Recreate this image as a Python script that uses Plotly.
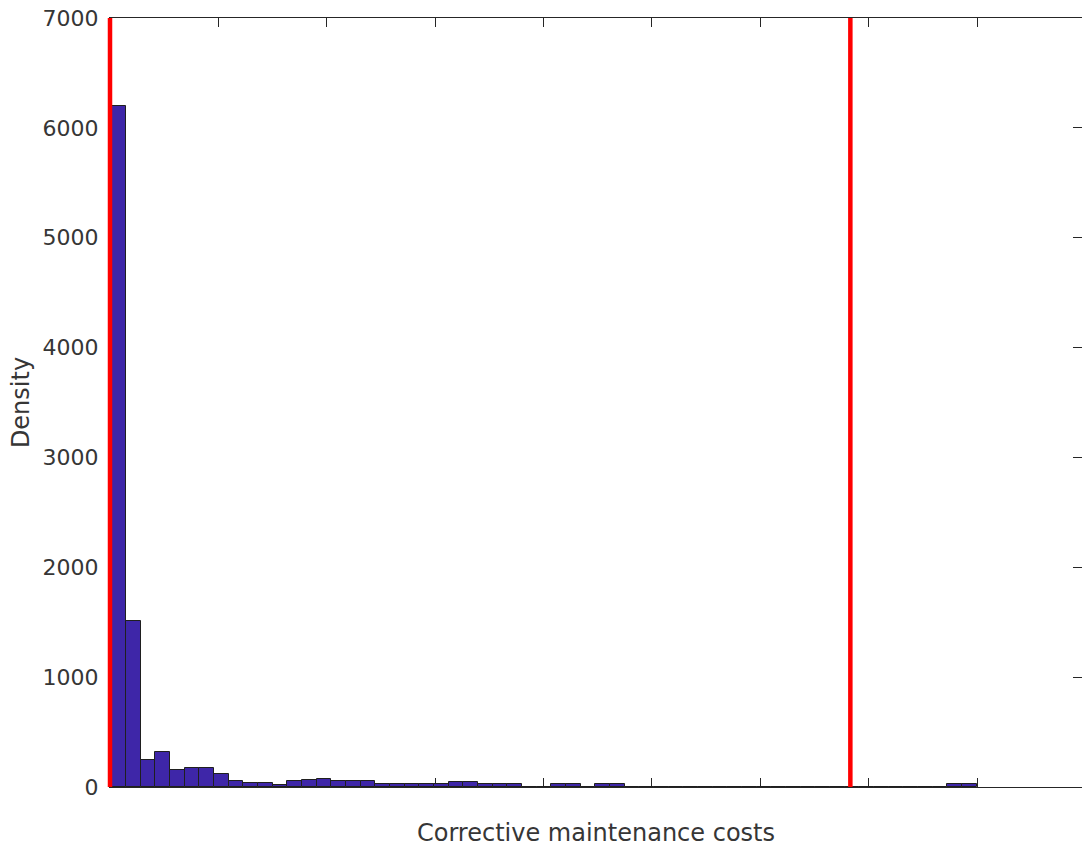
import plotly.graph_objects as go

# Histogram of corrective maintenance costs (density), 59 bins
bin_start = 0.011          # left edge of first bin (x units, ticks at integers)
bin_width = 0.1353         # bin width (x units)
densities = [
    6200, 1510, 243, 316, 152, 170, 170, 116, 52, 36,
    36, 22, 52, 61, 70, 52, 52, 52, 27, 27,
    27, 27, 27, 43, 43, 27, 27, 27, 4, 4,
    27, 27, 4, 27, 27, 4, 4, 4, 4, 4,
    4, 4, 4, 4, 4, 4, 4, 4, 4, 4,
    4, 4, 4, 4, 4, 4, 4, 27, 27,
]
ref_lines = [0.0, 6.83]    # vertical red reference lines (x units)

x_ticks = [0, 1, 2, 3, 4, 5, 6, 7, 8]
y_ticks = [0, 1000, 2000, 3000, 4000, 5000, 6000, 7000]
y_tick_labels = ["0", "1000", "2000", "3000", "4000", "5000", "6000", "7000"]

x_range = [0, 8.967]
y_range = [0, 7000]

centers = [bin_start + bin_width * (i + 0.5) for i in range(len(densities))]

axis_col = "#262626"
text_col = "#363636"
font_family = "DejaVu Sans"

fig = go.Figure()
fig.add_trace(go.Bar(
    x=centers, y=densities, width=bin_width,
    marker=dict(color="#3E26A8", line=dict(color="#1f1f1f", width=1)),
    showlegend=False, hoverinfo="skip",
))
fig.add_trace(go.Scatter(x=[None], y=[None], yaxis="y2", showlegend=False, hoverinfo="skip"))

for v in ref_lines:
    px = (v - x_range[0]) / (x_range[1] - x_range[0])
    fig.add_shape(type="line", xref="paper", yref="paper", x0=px, x1=px, y0=0, y1=1,
                  line=dict(color="#FF0000", width=4.5), layer="above")

fig.update_layout(
    width=1082, height=847,
    margin=dict(l=110, r=0, t=18, b=60),
    paper_bgcolor="white", plot_bgcolor="white",
    font=dict(family=font_family, color=text_col, size=22),
    bargap=0,
    xaxis=dict(
        range=x_range, tickvals=x_ticks, showticklabels=False,
        ticks="inside", ticklen=9, tickwidth=1, tickcolor=axis_col,
        showline=True, linecolor=axis_col, linewidth=1, mirror="ticks",
        showgrid=False, zeroline=False,
        title=dict(text="Corrective maintenance costs", font=dict(size=24), standoff=38),
        automargin=False, layer="below traces",
    ),
    yaxis=dict(
        range=y_range, tickvals=y_ticks, ticktext=y_tick_labels,
        ticks="inside", ticklen=9, tickwidth=1, tickcolor=axis_col,
        showline=True, linecolor=axis_col, linewidth=1,
        showgrid=False, zeroline=False, tickfont=dict(size=22),
        ticklabelstandoff=6,
        title=dict(text="Density", font=dict(size=24), standoff=6),
        automargin=False, layer="below traces",
    ),
    yaxis2=dict(
        range=y_range, tickvals=y_ticks, overlaying="y", side="right", anchor="x",
        ticks="inside", ticklen=9, tickwidth=1, tickcolor=axis_col,
        showticklabels=False, showline=False, showgrid=False, zeroline=False,
    ),
)

fig.write_html(
    "out.html",
    config={"displayModeBar": False},
    post_script="document.body.style.margin='0px';document.body.style.padding='0px';"
                "document.body.style.overflow='hidden';",
)
